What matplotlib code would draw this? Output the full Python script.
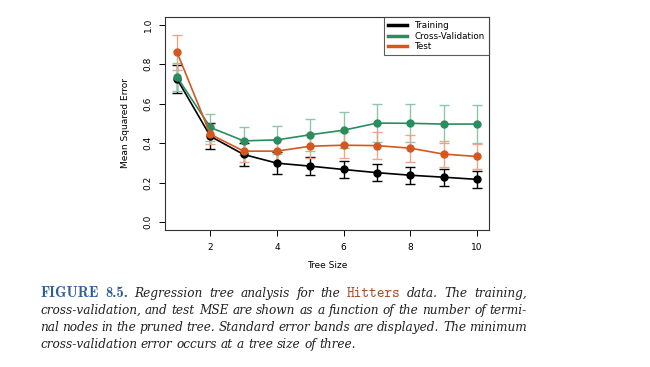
import numpy as np
import matplotlib
matplotlib.use("Agg")
import matplotlib.pyplot as plt

# data
tree_size = [1, 2, 3, 4, 5, 6, 7, 8, 9, 10]
train_mse = [0.725, 0.435, 0.343, 0.299, 0.284, 0.267, 0.251, 0.238, 0.228, 0.217]
train_se = [0.07, 0.065, 0.06, 0.055, 0.045, 0.045, 0.044, 0.043, 0.044, 0.043]
cv_mse = [0.735, 0.48, 0.412, 0.417, 0.443, 0.466, 0.502, 0.501, 0.497, 0.497]
cv_se = [0.07, 0.07, 0.07, 0.072, 0.08, 0.09, 0.097, 0.097, 0.095, 0.095]
test_mse = [0.86, 0.445, 0.36, 0.36, 0.385, 0.39, 0.388, 0.375, 0.345, 0.333]
test_se = [0.09, 0.05, 0.055, 0.055, 0.06, 0.065, 0.068, 0.068, 0.065, 0.065]

x_ticks = [2, 4, 6, 8, 10]
y_ticks = [0.0, 0.2, 0.4, 0.6, 0.8, 1.0]

caption_lines = [
    [("FIGURE 8.5.", "fig"), ("Regression tree analysis for the", "it"),
     ("Hitters", "tt"), ("data. The training,", "it")],
    [("cross-validation, and test MSE are shown as a function of the number of termi-", "it")],
    [("nal nodes in the pruned tree. Standard error bands are displayed. The minimum", "it")],
    [("cross-validation error occurs at a tree size of three.", "it")],
]

GREEN = "#2b8c5f"
ORANGE = "#d3581f"

fig = plt.figure(figsize=(6.5, 3.67), dpi=100)
ax = fig.add_axes([0.254, 0.373, 0.498, 0.581])

series = [
    ("Training", train_mse, train_se, "black", "black"),
    ("Cross-Validation", cv_mse, cv_se, GREEN, "#8cc7aa"),
    ("Test", test_mse, test_se, ORANGE, "#eba686"),
]
for name, m, se, col, ecol in series:
    ax.errorbar(tree_size, m, yerr=se, fmt="none", ecolor=ecol, elinewidth=1.0,
                capsize=3.5, capthick=1.0, zorder=2)
for name, m, se, col, ecol in series:
    ax.plot(tree_size, m, "-o", color=col, lw=1.2, ms=5, zorder=3)

ax.set_xlim(0.64, 10.36)
ax.set_ylim(-0.04, 1.04)
ax.set_xticks(x_ticks)
ax.set_yticks(y_ticks)
ax.set_yticklabels(["%.1f" % v for v in y_ticks], rotation=90, va="center")
ax.tick_params(labelsize=6.5, length=4, width=0.7, direction="out", pad=5)
for s in ax.spines.values():
    s.set_linewidth(0.8)
    s.set_color("#333333")
ax.set_xlabel("Tree Size", fontsize=6.5, labelpad=7)
ax.set_ylabel("Mean Squared Error", fontsize=6.5, labelpad=10)

handles = [plt.Line2D([], [], color=c, lw=2.5) for _, _, _, c, _ in series]
leg = ax.legend(handles, [s[0] for s in series], loc="upper right", fontsize=6.3,
                frameon=True, fancybox=False, edgecolor="#333333", borderaxespad=0,
                handlelength=2.2, labelspacing=0.15, borderpad=0.5, handletextpad=0.8)
leg.get_frame().set_linewidth(0.8)

# caption, justified like the book
styles = {
    "fig": dict(family="cmb10", color="#2f5f99", fontsize=10.5),
    "it": dict(family="DejaVu Serif", style="italic", color="#222222", fontsize=8.7),
    "tt": dict(family="cmtt10", color="#a84e26", fontsize=10.5),
}
renderer = fig.canvas.get_renderer()
W, H = fig.bbox.width, fig.bbox.height
x0, x1 = 40, 527
baselines = [297, 314, 331, 348]

for li, line in enumerate(caption_lines):
    words = []
    for text, st in line:
        for w in text.split(" "):
            words.append((w, st))
    arts = []
    for w, st in words:
        t = fig.text(0, 1 - baselines[li] / H, w, va="baseline", ha="left", **styles[st])
        arts.append(t)
    widths = [t.get_window_extent(renderer).width for t in arts]
    if li < len(caption_lines) - 1:
        gap = (x1 - x0 - sum(widths)) / (len(words) - 1)
    else:
        sp = fig.text(0, 0, "a b", **styles["it"])
        sp2 = fig.text(0, 0, "ab", **styles["it"])
        gap = sp.get_window_extent(renderer).width - sp2.get_window_extent(renderer).width
        sp.remove()
        sp2.remove()
    x = x0
    for t, w in zip(arts, widths):
        t.set_x(x / W)
        x += w + gap

fig.savefig("out.png", dpi=100)
